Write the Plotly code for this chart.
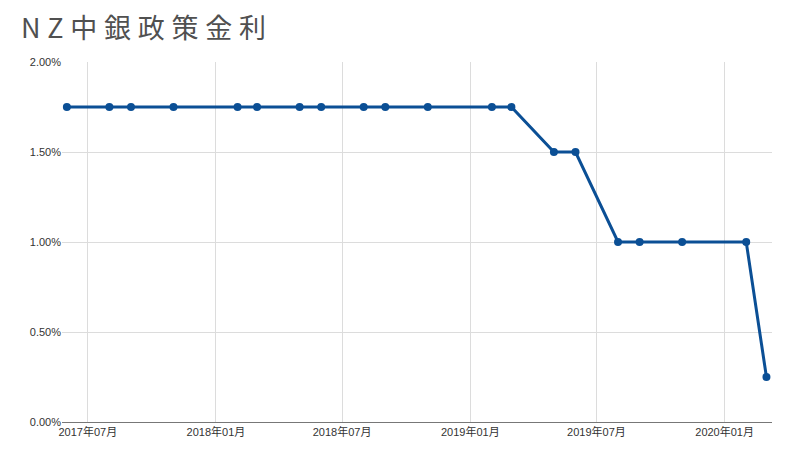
import plotly.graph_objects as go

# 月初日付と政策金利(%)
dates = [
    "2017-06-01", "2017-08-01", "2017-09-01", "2017-11-01",
    "2018-02-01", "2018-03-01", "2018-05-01", "2018-06-01",
    "2018-08-01", "2018-09-01", "2018-11-01",
    "2019-02-01", "2019-03-01", "2019-05-01", "2019-06-01",
    "2019-08-01", "2019-09-01", "2019-11-01",
    "2020-02-01", "2020-03-01",
]
rates = [
    1.75, 1.75, 1.75, 1.75,
    1.75, 1.75, 1.75, 1.75,
    1.75, 1.75, 1.75,
    1.75, 1.75, 1.50, 1.50,
    1.00, 1.00, 1.00,
    1.00, 0.25,
]
title_text = "NZ中銀政策金利"

font_family = "Arial, Liberation Sans, Noto Sans CJK JP, sans-serif"

# ページ本体の余白(8px)を差し引いた大きさ
W, H = 784, 434

fig = go.Figure()
fig.add_trace(go.Scatter(
    x=dates, y=rates, mode="lines+markers",
    line=dict(color="#0b4f95", width=3),
    marker=dict(color="#0b4f95", size=8),
    showlegend=False,
))

# タイトルは字間を広げる
spaced = "\u2005".join(list(title_text))

fig.update_layout(
    width=W, height=H,
    paper_bgcolor="white", plot_bgcolor="white",
    margin=dict(l=54, r=20, t=54, b=20),
    title=dict(
        text=spaced, x=13 / W, xanchor="left", xref="container",
        y=1 - 21 / H, yanchor="middle", yref="container",
        font=dict(family="Noto Sans CJK JP, sans-serif", size=27,
                  color="#505050"),
    ),
    font=dict(family=font_family, size=11, color="#333333"),
)
fig.update_xaxes(
    type="date", range=["2017-05-25", "2020-03-09"],
    tick0="2017-07-01", dtick="M6", tickformat="%Y年%m月",
    showgrid=True, gridcolor="#dcdcdc", gridwidth=1,
    showline=True, linecolor="#777777", linewidth=1,
    ticks="", zeroline=False, automargin=False,
)
fig.update_yaxes(
    range=[0, 2], dtick=0.5, tickformat=".2f", ticksuffix="%",
    showgrid=True, gridcolor="#dcdcdc", gridwidth=1,
    zeroline=False, showline=False, ticks="", automargin=False,
)

fig.write_html("out.html")
